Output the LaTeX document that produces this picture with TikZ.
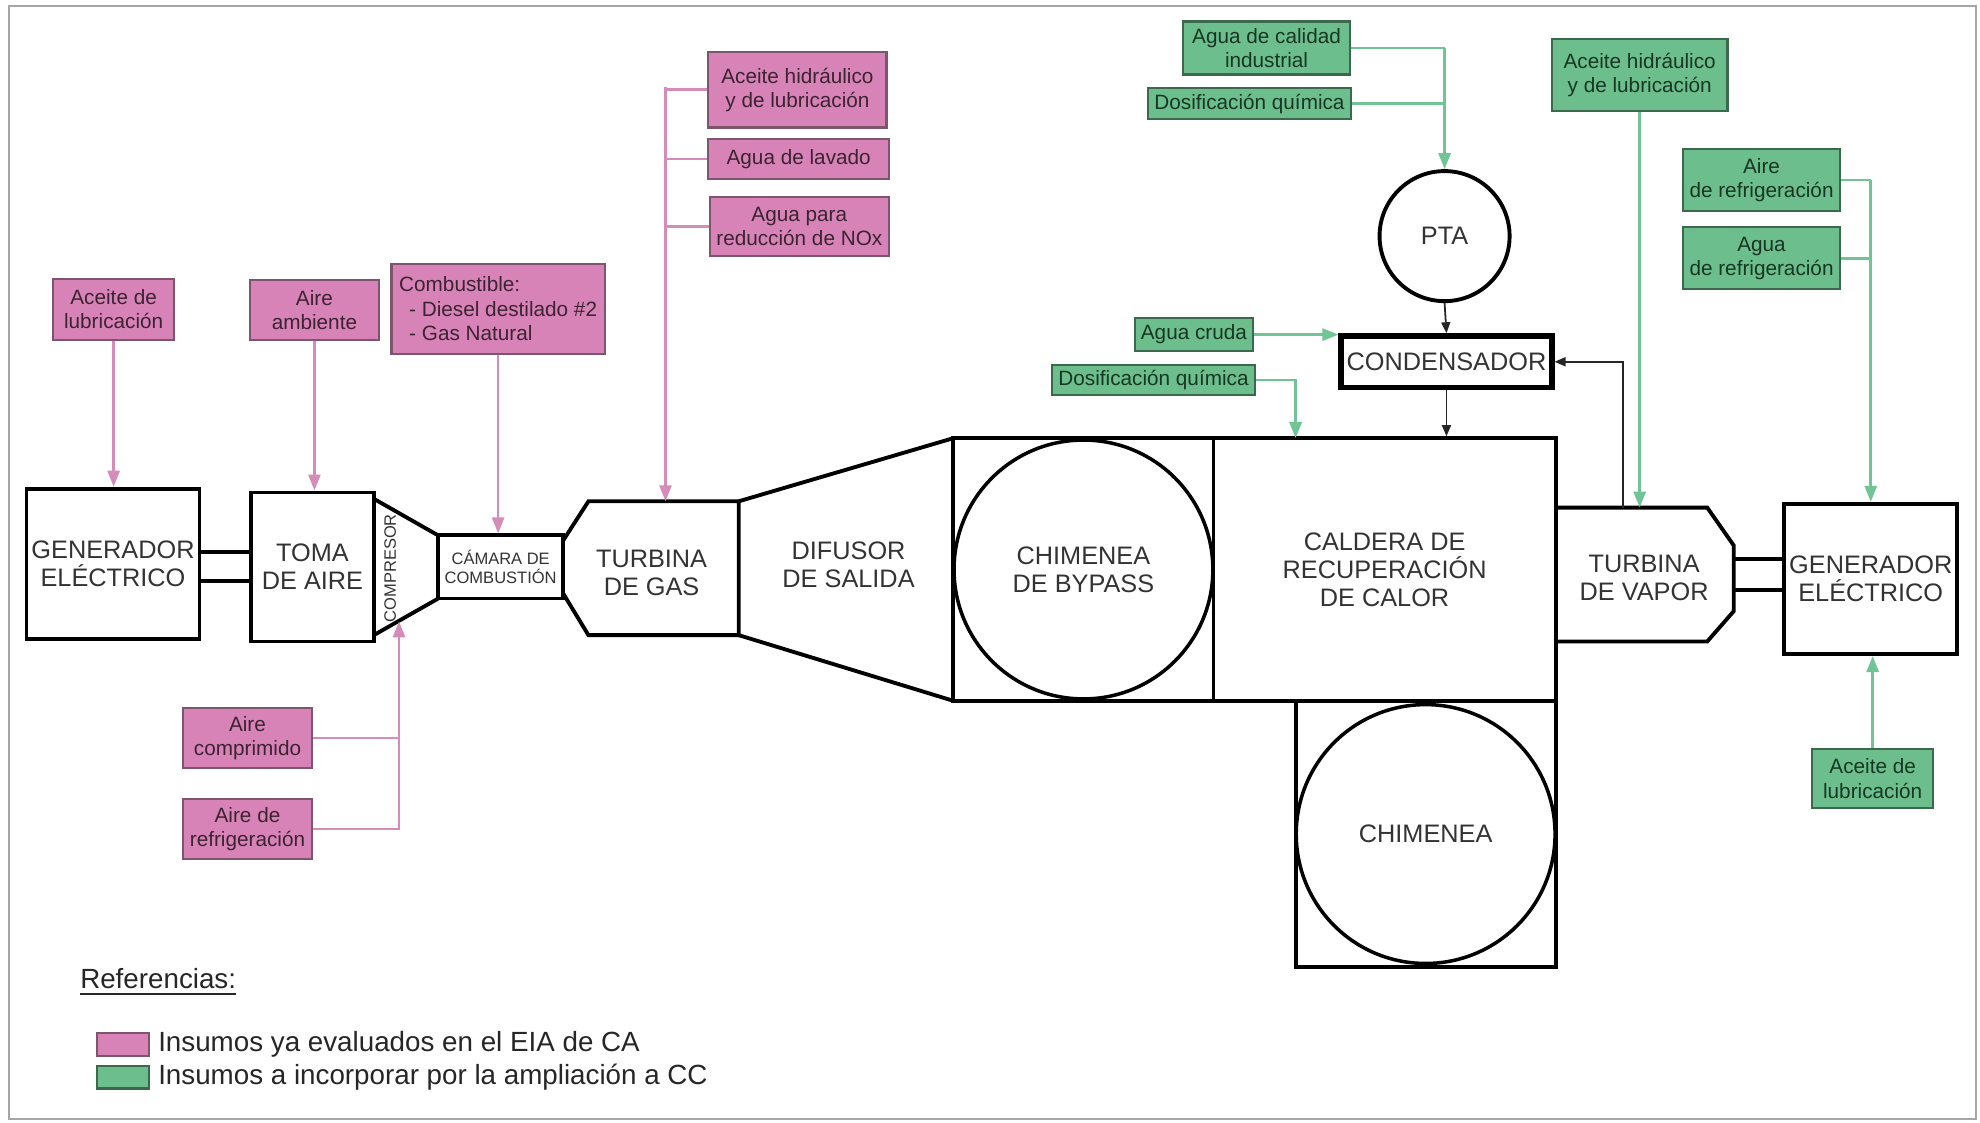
\documentclass[tikz,border=0pt]{standalone}
\usepackage{fontspec}
\setmainfont{Liberation Sans}
\usetikzlibrary{arrows.meta,positioning,calc}

\definecolor{pinkfill}{RGB}{216,131,184}
\definecolor{pinkedge}{RGB}{125,85,108}
\definecolor{pinkline}{RGB}{214,140,184}
\definecolor{pinktext}{RGB}{60,35,50}
\definecolor{greenfill}{RGB}{108,190,140}
\definecolor{greenedge}{RGB}{60,105,78}
\definecolor{greenline}{RGB}{112,196,150}
\definecolor{greentext}{RGB}{22,55,35}

\newcommand\pxu{0.12628mm}
\newcommand\mainf{\fontsize{7.2}{8}\selectfont}
\newcommand\insf{\fontsize{5.9}{6.9}\selectfont}
\newcommand\tinyf{\fontsize{4.7}{5.4}\selectfont}
\newcommand\legf{\fontsize{7.9}{9}\selectfont}

\begin{document}
\begin{tikzpicture}[
  x=0.12628mm, y=-0.12628mm,
  sz/.style 2 args={minimum width=#1*\pxu, minimum height=#2*\pxu},
  unit/.style={draw, line width=1.1pt, inner sep=0pt, align=center, text=black!80, font=\mainf},
  lbl/.style={inner sep=0pt, align=center, text=black!80, font=\mainf},
  pinkin/.style={draw=pinkedge, fill=pinkfill, line width=0.6pt, inner sep=0pt, align=center, text=pinktext, font=\insf},
  greenin/.style={draw=greenedge, fill=greenfill, line width=0.6pt, inner sep=0pt, align=center, text=greentext, font=\insf},
  body/.style={line width=1.1pt, line join=miter},
  shaft/.style={line width=1.1pt},
  pline/.style={pinkline, line width=0.75pt},
  parr/.style={pline, -{Triangle[length=1.6mm, width=1.2mm]}},
  gline/.style={greenline, line width=0.8pt},
  garr/.style={gline, -{Triangle[length=1.6mm, width=1.2mm]}},
  karr/.style={black!85, line width=0.5pt, -{Triangle[length=1.1mm, width=0.9mm]}},
  legtxt/.style={inner sep=0pt, text=black!85, font=\legf}
]
  \useasboundingbox (0,0) rectangle (1568,889);
  \draw[gray!70, line width=0.6pt] (7,5) rectangle (1565,886);

  % gas turbine line
  \node[unit, sz={137}{119}] (genL) at (89.5,446.5) {GENERADOR\\ELÉCTRICO};
  \node[unit, sz={97}{118}] (toma) at (247.5,449) {TOMA\\DE AIRE};
  \node[unit, sz={99}{50}, font=\tinyf] (camara) at (396.5,449) {CÁMARA DE\\COMBUSTIÓN};
  \draw[body] (296,395) -- (347,424) (296,503) -- (347,474);
  \node[lbl, font=\tinyf, rotate=90] (compLbl) at (309,450) {COMPRESOR};
  \draw[body] (446,428) -- (466,397) -- (585,397) -- (585,503) -- (466,503) -- (446,470);
  \node[lbl] (tgLbl) at (516,454) {TURBINA\\DE GAS};
  \draw[body] (585,397) -- (755,347) (585,503) -- (755,555);
  \node[lbl] (difLbl) at (672,447) {DIFUSOR\\DE SALIDA};
  \coordinate (sA) at ([yshift=1.2mm]genL.east);
  \coordinate (sB) at ([yshift=-1.7mm]genL.east);
  \draw[shaft] (sA) -- (sA -| toma.west) (sB) -- (sB -| toma.west);

  % heat recovery and steam side
  \node[unit, sz={206}{208}] (bypassBox) at (858,451) {};
  \node[draw, circle, line width=1pt, inner sep=0pt, minimum size=205*\pxu, align=center, text=black!80, font=\mainf] (bypass) at (858,451) {CHIMENEA\\DE BYPASS};
  \node[unit, sz={271}{208}] (caldera) at (1096.5,451) {CALDERA DE\\RECUPERACIÓN\\DE CALOR};
  \node[unit, sz={206}{211}] (chimBox) at (1129,660.5) {};
  \node[draw, circle, line width=1pt, inner sep=0pt, minimum size=205*\pxu, text=black!80, font=\mainf] (chim) at (1129,660.5) {CHIMENEA};
  \draw[body] (1232,402) -- (1352,402) -- (1373,432) -- (1373,484) -- (1352,508) -- (1232,508);
  \node[lbl] (tvLbl) at (1302,458) {TURBINA\\DE VAPOR};
  \coordinate (tvR) at (1373,458);
  \node[unit, sz={137}{119}] (genR) at (1481.5,458.5) {GENERADOR\\ELÉCTRICO};
  \coordinate (sC) at ([yshift=1.96mm]genR.west);
  \coordinate (sD) at ([yshift=-1.07mm]genR.west);
  \draw[shaft] (sC -| tvR) -- (sC) (sD -| tvR) -- (sD);
  \node[draw, circle, line width=1.1pt, inner sep=0pt, minimum size=103*\pxu, font=\mainf, text=black!80] (pta) at (1144,187) {PTA};
  \node[unit, line width=1.5pt, sz={167}{41}] (cond) at (1145.5,286.5) {CONDENSADOR};

  \coordinate (gtIn) at (527,397);
  \coordinate (gtBus) at (527,69);
  \coordinate (compIn) at (316,492);
  \coordinate (cdIn) at (1026,347);
  \coordinate (tvIn) at (1298.5,402);
  \coordinate (tvOut) at (1285,402);

  % pink inputs
  \node[pinkin, sz={96}{48}] (lubA) at (90,245) {Aceite de\\lubricación};
  \node[pinkin, sz={102}{47}] (aireAmb) at (249,245.5) {Aire\\ambiente};
  \node[pinkin, sz={169}{71}, align=left] (comb) at (394.5,244.5)
    {Combustible:\\\hspace*{1mm}- Diesel destilado \#2\\\hspace*{1mm}- Gas Natural};
  \node[pinkin, sz={141}{60}] (hidA) at (631.5,71) {Aceite hidráulico\\y de lubricación};
  \node[pinkin, sz={143}{32}] (lavado) at (632.5,126) {Agua de lavado};
  \node[pinkin, sz={142}{47}] (nox) at (633,179.5) {Agua para\\reducción de NOx};
  \node[pinkin, sz={102}{47}] (aComp) at (196,584.5) {Aire\\comprimido};
  \node[pinkin, sz={102}{47}] (aRefP) at (196,656.5) {Aire de\\refrigeración};

  \draw[parr] (lubA.south) -- (lubA.south |- genL.north);
  \draw[parr] (aireAmb.south) -- (aireAmb.south |- toma.north);
  \draw[parr] (comb.south) -- (comb.south |- camara.north);
  \draw[pline] (hidA.west) -- (hidA.west -| gtBus) (lavado.west) -- (lavado.west -| gtBus)
    (nox.west) -- (nox.west -| gtBus);
  \draw[parr] (gtBus) -- (gtIn);
  \draw[pline] (aComp.east) -- (aComp.east -| compIn);
  \draw[parr] (aRefP.east) -| (compIn);

  % green inputs
  \node[greenin, sz={132}{42}] (calidad) at (1003,38) {Agua de calidad\\industrial};
  \node[greenin, sz={161}{24}] (dosif1) at (989.5,82) {Dosificación química};
  \node[greenin, sz={139}{57}] (hidV) at (1298.5,59.5) {Aceite hidráulico\\y de lubricación};
  \node[greenin, sz={124}{49}] (aireRef) at (1395,142.5) {Aire\\de refrigeración};
  \node[greenin, sz={124}{49}] (aguaRef) at (1395,204.5) {Agua\\de refrigeración};
  \node[greenin, sz={93}{26}] (cruda) at (945.5,265) {Agua cruda};
  \node[greenin, sz={161}{24}] (dosif2) at (913.5,301) {Dosificación química};
  \node[greenin, sz={96}{47}] (lubV) at (1483,616.5) {Aceite de\\lubricación};

  \draw[gline] (calidad.east) -- (calidad.east -| pta.north) (dosif1.east) -- (dosif1.east -| pta.north);
  \draw[garr] (calidad.east -| pta.north) -- (pta.north);
  \draw[gline] (aireRef.east) -- (aireRef.east -| genR.north) (aguaRef.east) -- (aguaRef.east -| genR.north);
  \draw[garr] (aireRef.east -| genR.north) -- (genR.north);
  \draw[garr] (hidV.south) -- (tvIn);
  \draw[garr] (cruda.east) -- (cruda.east -| cond.west);
  \draw[garr] (dosif2.east) -| (cdIn);
  \draw[garr] (lubV.north) -- (lubV.north |- genR.south);

  % water / steam loop
  \draw[karr] (pta.south) -- (cond.north);
  \draw[karr] (cond.south) -- (cond.south |- caldera.north);
  \draw[karr] (tvOut) |- (cond.east);

  % legend
  \node[legtxt, anchor=west] (refs) at (63,778) {\underline{Referencias:}};
  \node[pinkin, sz={41}{18}] (legP) at (97.5,827) {};
  \node[legtxt, right=0.75mm of legP] (legPt) {Insumos ya evaluados en el EIA de CA};
  \node[greenin, sz={41}{18}] (legG) at (97.5,853) {};
  \node[legtxt, right=0.75mm of legG] (legGt) {Insumos a incorporar por la ampliación a CC};
\end{tikzpicture}
\end{document}
